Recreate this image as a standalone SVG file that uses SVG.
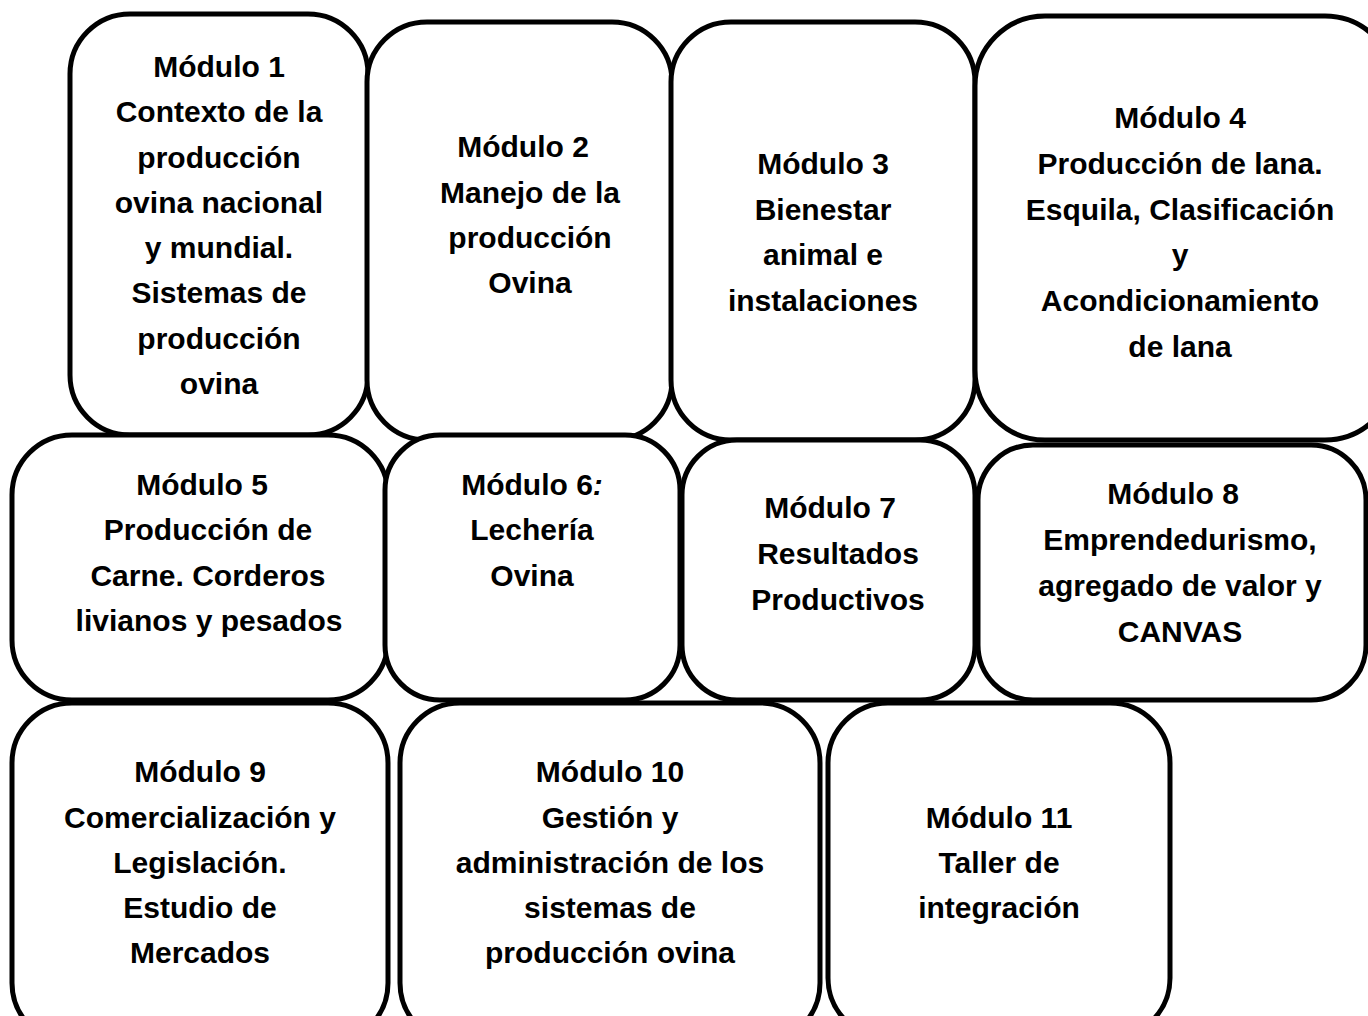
<svg xmlns="http://www.w3.org/2000/svg" width="1368" height="1016" viewBox="0 0 1368 1016">
<style>
.b{fill:#fff;stroke:#000;stroke-width:5}
.t{font-family:"Liberation Sans",Arial,sans-serif;font-weight:bold;font-size:30px;fill:#000;text-anchor:middle}
</style>
<rect width="1368" height="1016" fill="#fff"/>
<g id="connectors"></g>
<g id="m1"><rect class="b" x="70" y="14" width="298" height="421" rx="60"/>
<text class="t"><tspan x="219" y="77">Módulo 1</tspan><tspan x="219" y="122">Contexto de la</tspan><tspan x="219" y="168">producción</tspan><tspan x="219" y="213">ovina nacional</tspan><tspan x="219" y="258">y mundial.</tspan><tspan x="219" y="303">Sistemas de</tspan><tspan x="219" y="349">producción</tspan><tspan x="219" y="394">ovina</tspan></text></g>
<g id="m2"><rect class="b" x="367" y="22" width="305" height="418" rx="60"/>
<text class="t"><tspan x="523" y="157">Módulo 2</tspan><tspan x="530" y="203">Manejo de la</tspan><tspan x="530" y="248">producción</tspan><tspan x="530" y="293">Ovina</tspan></text></g>
<g id="m3"><rect class="b" x="671" y="22" width="304" height="418" rx="60"/>
<text class="t"><tspan x="823" y="174">Módulo 3</tspan><tspan x="823" y="220">Bienestar</tspan><tspan x="823" y="265">animal e</tspan><tspan x="823" y="311">instalaciones</tspan></text></g>
<g id="m4"><rect class="b" x="975" y="16" width="420" height="424" rx="70"/>
<text class="t"><tspan x="1180" y="128">Módulo 4</tspan><tspan x="1180" y="174">Producción de lana.</tspan><tspan x="1180" y="220">Esquila, Clasificación</tspan><tspan x="1180" y="265">y</tspan><tspan x="1180" y="311">Acondicionamiento</tspan><tspan x="1180" y="357">de lana</tspan></text></g>
<g id="m5"><rect class="b" x="12" y="435" width="376" height="265" rx="60"/>
<text class="t"><tspan x="202" y="495">Módulo 5</tspan><tspan x="208" y="540">Producción de</tspan><tspan x="208" y="586">Carne. Corderos</tspan><tspan x="209" y="631">livianos y pesados</tspan></text></g>
<g id="m6"><rect class="b" x="385" y="435" width="295" height="265" rx="55"/>
<text class="t"><tspan x="532" y="495">Módulo 6<tspan font-style="italic">:</tspan></tspan><tspan x="532" y="540">Lechería</tspan><tspan x="532" y="586">Ovina</tspan></text></g>
<g id="m7"><rect class="b" x="682" y="440" width="293" height="260" rx="55"/>
<text class="t"><tspan x="830" y="518">Módulo 7</tspan><tspan x="838" y="564">Resultados</tspan><tspan x="838" y="610">Productivos</tspan></text></g>
<g id="m8"><rect class="b" x="978" y="445" width="388" height="255" rx="55"/>
<text class="t"><tspan x="1173" y="504">Módulo 8</tspan><tspan x="1180" y="550">Emprendedurismo,</tspan><tspan x="1180" y="596">agregado de valor y</tspan><tspan x="1180" y="642">CANVAS</tspan></text></g>
<g id="m9"><rect class="b" x="12" y="703" width="376" height="340" rx="60"/>
<text class="t"><tspan x="200" y="782">Módulo 9</tspan><tspan x="200" y="828">Comercialización y</tspan><tspan x="200" y="873">Legislación.</tspan><tspan x="200" y="918">Estudio de</tspan><tspan x="200" y="963">Mercados</tspan></text></g>
<g id="m10"><rect class="b" x="400" y="703" width="420" height="340" rx="60"/>
<text class="t"><tspan x="610" y="782">Módulo 10</tspan><tspan x="610" y="828">Gestión y</tspan><tspan x="610" y="873">administración de los</tspan><tspan x="610" y="918">sistemas de</tspan><tspan x="610" y="963">producción ovina</tspan></text></g>
<g id="m11"><rect class="b" x="828" y="703" width="342" height="335" rx="60"/>
<text class="t"><tspan x="999" y="828">Módulo 11</tspan><tspan x="999" y="873">Taller de</tspan><tspan x="999" y="918">integración</tspan></text></g>
</svg>
